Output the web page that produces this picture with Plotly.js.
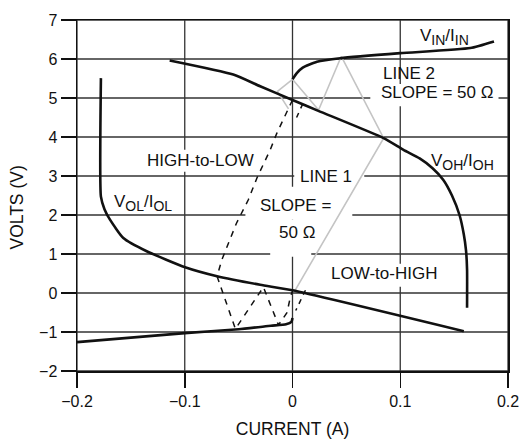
<!DOCTYPE html>
<html>
<head>
<meta charset="utf-8">
<script src="https://cdn.plot.ly/plotly-3.0.1.min.js"></script>
<style>html,body{margin:0;padding:0;background:#fff;}#chart{width:520px;height:442px;}</style>
</head>
<body>
<div id="chart"></div>
<script>
// V_OH / I_OH curve
const vohX = [-0.114, -0.055, -0.03, 0, 0.024, 0.0846, 0.103, 0.118, 0.13, 0.14, 0.148, 0.155, 0.159, 0.161, 0.162, 0.162];
const vohY = [5.96, 5.6, 5.3, 4.95, 4.67, 3.97, 3.67, 3.45, 3.2, 2.9, 2.5, 2.0, 1.5, 1.1, 0.6, -0.38];
// V_OL / I_OL curve
const volX = [-0.1778, -0.1778, -0.1745, -0.1694, -0.157, -0.1353, -0.0997, -0.07, -0.03, 0, 0.159];
const volY = [5.51, 2.47, 2.15, 1.88, 1.41, 1.07, 0.66, 0.43, 0.21, 0.07, -0.98];
// V_IN / I_IN curve (lower and upper branches)
const vinLowX = [-0.2, -0.1, -0.05, -0.02, -0.006, -0.001, 0];
const vinLowY = [-1.26, -1.03, -0.93, -0.84, -0.80, -0.74, -0.64];
const vinUpX = [0, 0.004, 0.0095, 0.0227, 0.0443, 0.1, 0.165, 0.187];
const vinUpY = [5.48, 5.64, 5.78, 5.93, 6.02, 6.15, 6.28, 6.45];
// Load lines (gray), 50 ohm slope
const loadX = [0.002, 0.0846, 0.0453, 0.0242, 0, -0.014, -0.0037];
const loadY = [0.05, 3.97, 6.07, 4.69, 5.48, 5.17, 4.72];
// Transition paths (dashed)
const transX = [0, -0.005, -0.0145, -0.0207, -0.033, -0.041, -0.052, -0.0656, -0.070, -0.053, -0.027, -0.013, -0.005, -0.002, 0];
const transY = [4.95, 4.65, 4.1, 3.67, 2.95, 2.39, 1.79, 0.85, 0.43, -0.92, 0.15, -0.82, -0.5, -0.1, 0.05];
const shortAX = [0.0095, 0.003];
const shortAY = [4.85, 4.45];
const shortBX = [0.012, 0.003];
const shortBY = [0.07, -0.45];
// Tick values
const xTicks = [-0.2, -0.1, 0, 0.1, 0.2];
const xTickText = ['\u22120.2', '\u22120.1', '0', '0.1', '0.2'];
const yTicks = [-2, -1, 0, 1, 2, 3, 4, 5, 6, 7];

const FONT = 'Liberation Sans, Arial, sans-serif';
const black = {color: '#111', width: 2.6};
const traces = [
  {x: loadX, y: loadY, mode: 'lines', line: {color: '#c4c4c4', width: 1.6}},
  {x: transX, y: transY, mode: 'lines', line: {color: '#111', width: 1.5, dash: '6px,6px'}},
  {x: shortAX, y: shortAY, mode: 'lines', line: {color: '#111', width: 1.5, dash: '5px,5px'}},
  {x: shortBX, y: shortBY, mode: 'lines', line: {color: '#111', width: 1.5, dash: '5px,5px'}},
  {x: vohX, y: vohY, mode: 'lines', line: Object.assign({shape: 'spline', smoothing: 0.5}, black)},
  {x: volX, y: volY, mode: 'lines', line: Object.assign({shape: 'spline', smoothing: 0.5}, black)},
  {x: vinLowX, y: vinLowY, mode: 'lines', line: Object.assign({shape: 'spline', smoothing: 0.5}, black)},
  {x: vinUpX, y: vinUpY, mode: 'lines', line: Object.assign({shape: 'spline', smoothing: 0.5}, black)}
];
traces.forEach(t => { t.showlegend = false; t.hoverinfo = 'skip'; });

const GRID = {color: '#333', width: 1.3};
const shapes = [];
xTicks.forEach(v => shapes.push({type: 'line', layer: 'below', xref: 'x', yref: 'paper', x0: v, x1: v, y0: 0, y1: 1, line: GRID}));
yTicks.forEach(v => shapes.push({type: 'line', layer: 'below', xref: 'paper', yref: 'y', x0: 0, x1: 1, y0: v, y1: v, line: GRID}));
function box(x0, x1, y0, y1) {
  return {type: 'rect', layer: 'below', xref: 'x', yref: 'y', x0: x0, x1: x1, y0: y0, y1: y1,
          fillcolor: '#fff', line: {width: 0}};
}
shapes.push(
  box(-0.1369, -0.0347, 3.107, 3.671),
  box(0.0016, 0.0666, 2.723, 3.21),
  box(-0.0437, 0.0555, 1.878, 2.723),
  box(-0.0207, 0.0174, 0.93, 1.878),
  box(0.0722, 0.1912, 4.79, 5.36),
  box(0.0332, 0.1373, 0.161, 0.75)
);
function lab(text, x, y, size) {
  return {text: text, x: x, y: y, xref: 'x', yref: 'y', showarrow: false,
          font: {family: FONT, size: size || 17, color: '#111'}};
}
function sub(s) { return '<sub><span style="font-size:14px">' + s + '</span></sub>'; }

const layout = {
  width: 520, height: 442,
  margin: {l: 77, r: 12, t: 20, b: 71},
  paper_bgcolor: '#fff', plot_bgcolor: '#fff',
  font: {family: FONT, color: '#111'},
  xaxis: {
    range: [-0.2, 0.2], tickvals: xTicks, ticktext: xTickText,
    showgrid: false, zeroline: false,
    showline: true, linecolor: '#111', linewidth: 1.5, mirror: true,
    ticks: 'outside', ticklen: 15, tickwidth: 1.5, tickcolor: '#111',
    tickfont: {family: FONT, size: 16, color: '#111'},
    title: {text: 'CURRENT (A)', font: {family: FONT, size: 17.5, color: '#111'}, standoff: 14}
  },
  yaxis: {
    range: [-2, 7], tickvals: yTicks,
    showgrid: false, zeroline: false,
    showline: true, linecolor: '#111', linewidth: 1.5, mirror: true,
    ticks: 'outside', ticklen: 15, tickwidth: 1.5, tickcolor: '#111',
    tickfont: {family: FONT, size: 16, color: '#111'}
  },
  shapes: shapes,
  annotations: [
    lab('V' + sub('IN') + '/I' + sub('IN'), 0.141, 6.57),
    lab('LINE 2', 0.1085, 5.64),
    lab('SLOPE = 50 \u03A9', 0.1345, 5.13),
    lab('V' + sub('OH') + '/I' + sub('OH'), 0.158, 3.36),
    lab('HIGH-to-LOW', -0.0858, 3.39),
    lab('LINE 1', 0.0313, 2.98),
    lab('SLOPE =', 0.0025, 2.24),
    lab('50 \u03A9', 0.0044, 1.545),
    lab('V' + sub('OL') + '/I' + sub('OL'), -0.1387, 2.31),
    lab('LOW-to-HIGH', 0.0852, 0.49),
    {text: 'VOLTS (V)', xref: 'paper', yref: 'paper', x: -0.166, y: 0.467, textangle: -90,
     showarrow: false, font: {family: FONT, size: 17.5, color: '#111'}}
  ]
};

Plotly.newPlot('chart', traces, layout, {staticPlot: true, displayModeBar: false});
</script>
</body>
</html>
